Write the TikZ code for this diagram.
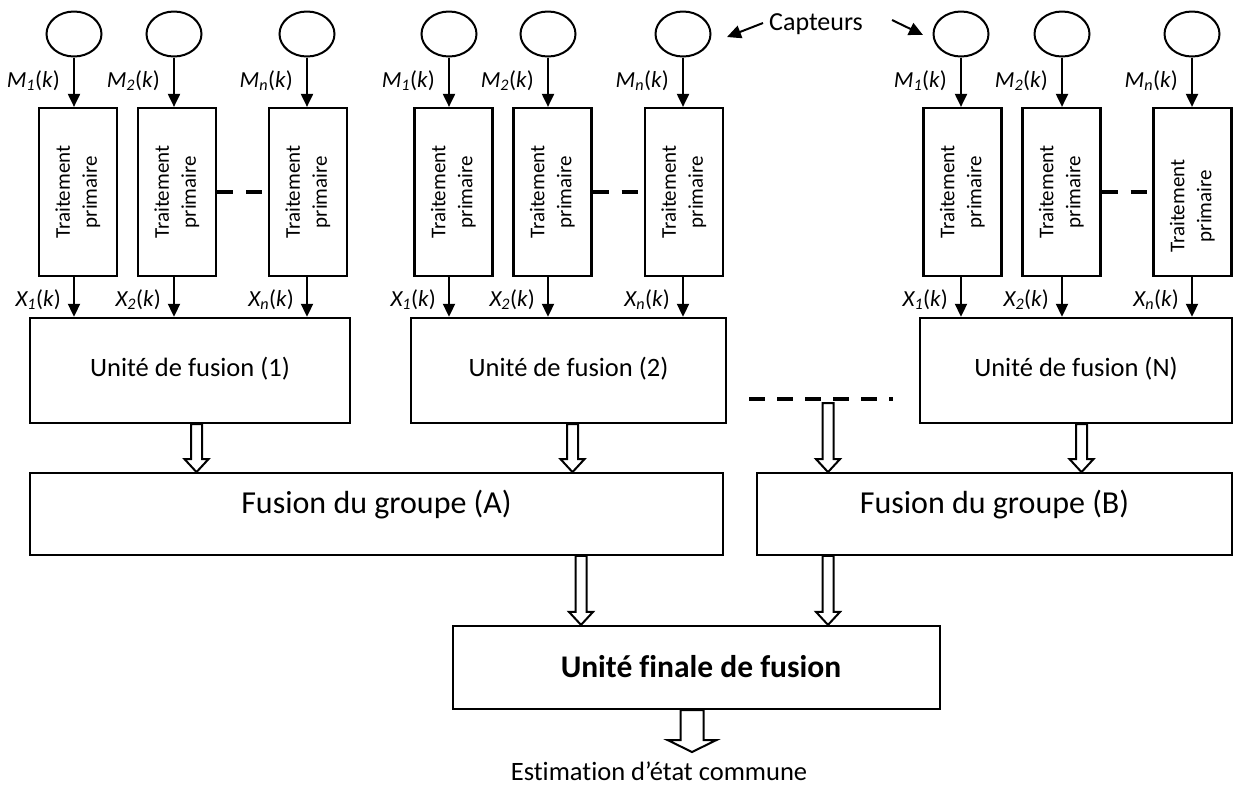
\documentclass[tikz,border=0pt]{standalone}
\usepackage{fontspec}
\setmainfont{Carlito}[Ligatures=NoCommon]
\usetikzlibrary{arrows.meta,calc,shapes.geometric}
\begin{document}
\begin{tikzpicture}[x=1pt,y=-1pt,
  sensor/.style={draw, ellipse, line width=2pt, minimum width=55pt, minimum height=45pt, inner sep=0pt},
  procbox/.style={draw, line width=2.2pt, minimum width=78pt, minimum height=168pt, inner sep=0pt,
                  font=\fontsize{21}{27}\selectfont},
  fusbox/.style={draw, line width=2.4pt, minimum height=105pt, inner sep=0pt},
  grpbox/.style={draw, line width=1.8pt, minimum height=82pt, inner sep=0pt},
  finalbox/.style={draw, line width=2.2pt, minimum height=83pt, inner sep=0pt},
  sig/.style={line width=2pt, -{Triangle[length=13pt,width=12pt]}},
  pointer/.style={line width=2pt, -{Triangle[length=14pt,width=13pt]}},
  lab/.style={inner sep=0pt, anchor=base east, font=\fontsize{23}{27}\selectfont},
  unittext/.style={inner sep=0pt, anchor=base, font=\fontsize{26.5}{30}\selectfont},
  grptext/.style={inner sep=0pt, anchor=base, font=\fontsize{32}{36}\selectfont},
  gapline/.style={line width=4pt, dash pattern=on 16pt off 13pt},
  fatarrow/.style n args={3}{draw, line width=2pt, line join=miter, to path={
    let \p1=(\tikztostart), \p2=(\tikztotarget) in
    (\x1-#1,\y1) -- (\x1-#1,\y2+#3) -- (\x1-#2,\y2+#3) -- (\x1,\y2)
    -- (\x1+#2,\y2+#3) -- (\x1+#1,\y2+#3) -- (\x1+#1,\y1) -- cycle}},
  flow/.style={fatarrow={5.5pt}{12pt}{13pt}}
]
\useasboundingbox (0,0) rectangle (1234,788);

% three sensor groups, each with its primary processing chain and fusion unit
\foreach \g/\xa/\xb/\xc/\ba/\bb/\bc/\fx/\fw/\fn/\sh in {
  1/74/174/307/78/177/308/190/320/1/0,
  2/449/548/683/453.5/552.5/684/568.5/315/2/0,
  3/961/1062/1192/962.5/1061.5/1192.5/1076/312/N/28}
{
  \node[sensor] (s\g-a) at (\xa,34) {};
  \node[sensor] (s\g-b) at (\xb,34) {};
  \node[sensor] (s\g-c) at (\xc,34) {};

  \node[procbox] (p\g-a) at (\ba,192)
    {\rotatebox{90}{\begin{tabular}{@{}c@{}}Traitement\\primaire\end{tabular}}};
  \node[procbox] (p\g-b) at (\bb,192)
    {\rotatebox{90}{\begin{tabular}{@{}c@{}}Traitement\\primaire\end{tabular}}};
  \node[procbox] (p\g-c) at (\bc,192)
    {\rotatebox{90}{\begin{tabular}{@{}c@{}}Traitement\\primaire\end{tabular}\hspace*{\sh pt}}};

  \node[fusbox, minimum width=\fw pt] (f\g) at (\fx,370.5) {};
  \node[unittext] (f\g-t) at (\fx,376) {Unité de fusion (\fn)};

  \draw[sig] (s\g-a.south) -- (p\g-a.north -| s\g-a.south);
  \draw[sig] (s\g-b.south) -- (p\g-b.north -| s\g-b.south);
  \draw[sig] (s\g-c.south) -- (p\g-c.north -| s\g-c.south);

  \draw[sig] (p\g-a.south -| s\g-a.south) -- (f\g.north -| s\g-a.south);
  \draw[sig] (p\g-b.south -| s\g-b.south) -- (f\g.north -| s\g-b.south);
  \draw[sig] (p\g-c.south -| s\g-c.south) -- (f\g.north -| s\g-c.south);

  \draw[gapline] (p\g-b.east) -- (p\g-c.west);

  \node[lab] (m\g-a) at (\xa-14,87) {\textit{M\textsubscript{1}}(\textit{k})};
  \node[lab] (m\g-b) at (\xb-14,87) {\textit{M\textsubscript{2}}(\textit{k})};
  \node[lab] (m\g-c) at (\xc-14,87) {\textit{M\textsubscript{n}}(\textit{k})};
  \node[lab] (x\g-a) at (\xa-13,306) {\textit{X\textsubscript{1}}(\textit{k})};
  \node[lab] (x\g-b) at (\xb-13,306) {\textit{X\textsubscript{2}}(\textit{k})};
  \node[lab] (x\g-c) at (\xc-13,306) {\textit{X\textsubscript{n}}(\textit{k})};
}

% sensor callout
\node[inner sep=0pt, anchor=base west, font=\fontsize{26}{30}\selectfont] (cap) at (769,30) {Capteurs};
\coordinate (capL) at (763,23);
\coordinate (capLtip) at (727,37);
\coordinate (capR) at (892,20);
\coordinate (capRtip) at (923,35);
\draw[pointer] (capL) -- (capLtip);
\draw[pointer] (capR) -- (capRtip);

% group level fusion
\node[grpbox, minimum width=693pt] (ga) at (376.5,514) {};
\node[grptext] (ga-t) at (376.5,513.5) {Fusion du groupe (A)};
\node[grpbox, minimum width=475pt] (gb) at (994.5,514) {};
\node[grptext] (gb-t) at (994.5,513.5) {Fusion du groupe (B)};

% the other fusion units between (2) and (N)
\coordinate (dl) at (749,399);
\coordinate (dr) at (893,399);
\coordinate (dm) at (828,403);
\draw[line width=4.5pt, dash pattern=on 15.7pt off 12.3pt] (dl) -- (dr);

\draw[flow] ([xshift=6.5pt]f1.south) to (ga.north);
\draw[flow] ([xshift=4pt]f2.south) to (ga.north);
\draw[flow] (dm) to (gb.north);
\draw[flow] ([xshift=5.5pt]f3.south) to (gb.north);

% final fusion
\node[finalbox, minimum width=487pt] (fin) at (696.5,667.5) {};
\node[inner sep=0pt, anchor=base, font=\fontsize{31.5}{36}\selectfont\bfseries] (fin-t) at (701,677) {Unité finale de fusion};

\draw[flow] ([xshift=204.5pt]ga.south) to (fin.north);
\draw[flow] ([xshift=-166.5pt]gb.south) to (fin.north);

\coordinate (out) at (692,752);
\draw[fatarrow={11.5pt}{24.5pt}{12pt}] (fin.south -| out) to (out);
\node[inner sep=0pt, anchor=base, font=\fontsize{26.5}{30}\selectfont] (est) at (659,780) {Estimation d’état commune};
\end{tikzpicture}
\end{document}
